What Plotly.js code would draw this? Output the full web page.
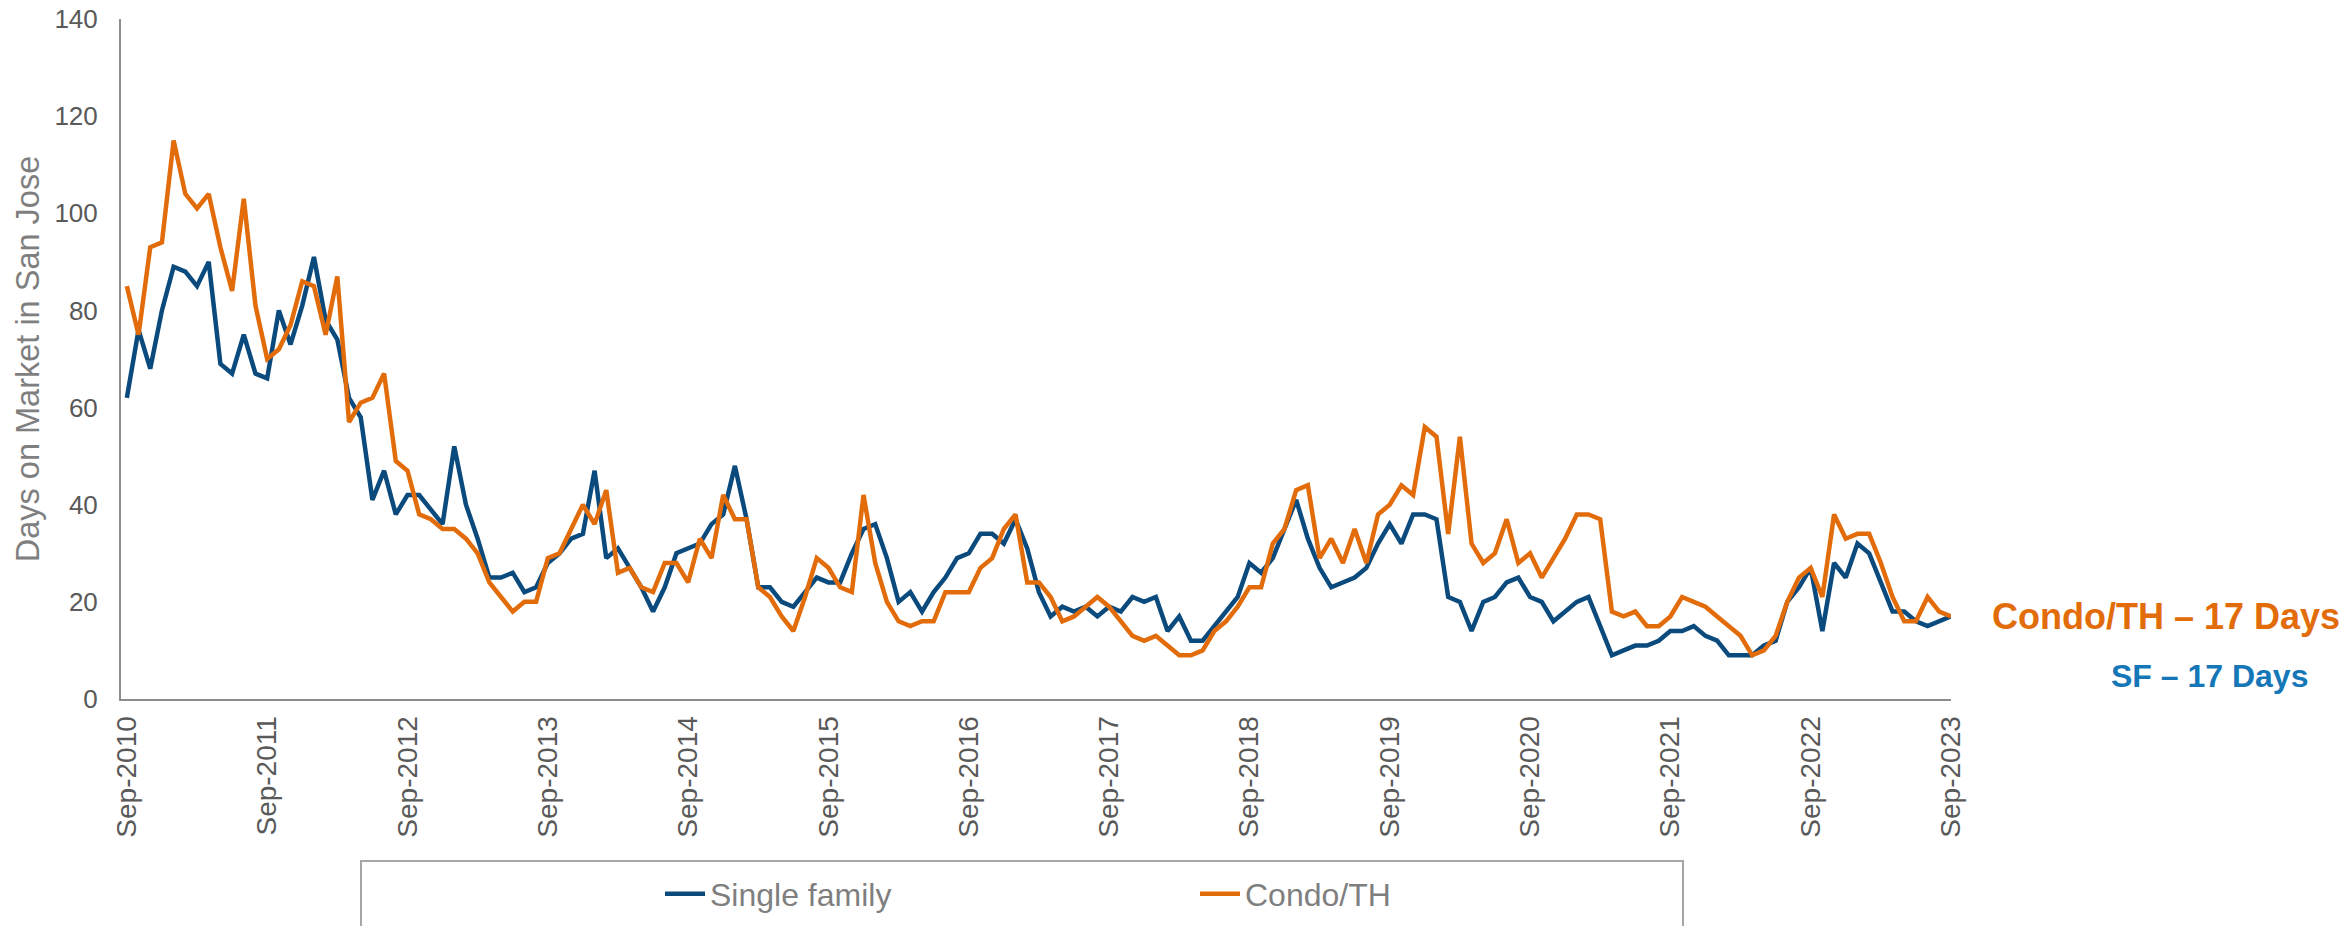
<!DOCTYPE html>
<html>
<head>
<meta charset="utf-8">
<script src="https://cdn.plot.ly/plotly-3.0.1.min.js"></script>
<style>
  html, body { margin: 0; padding: 0; background: #ffffff; }
  #chart { width: 2348px; height: 926px; }
</style>
</head>
<body>
<div id="chart"></div>
<script>
// Monthly series, Sep-2010 .. Sep-2023 (157 months)
const monthNames = ['Sep','Oct','Nov','Dec','Jan','Feb','Mar','Apr','May','Jun','Jul','Aug'];
const startYear = 2010;
const monthCount = 157;

const sfDays = [
  62,76,68,80,89,88,85,90,69,67,75,67,
  66,80,73,81,91,78,74,62,58,41,47,38,
  42,42,39,36,52,40,33,25,25,26,22,23,
  28,30,33,34,47,29,31,27,23,18,23,30,
  31,32,36,38,48,37,23,23,20,19,22,25,
  24,24,30,35,36,29,20,22,18,22,25,29,
  30,34,34,32,37,31,22,17,19,18,19,17,
  19,18,21,20,21,14,17,12,12,15,18,21,
  28,26,29,35,41,33,27,23,24,25,27,32,
  36,32,38,38,37,21,20,14,20,21,24,25,
  21,20,16,18,20,21,15,9,10,11,11,12,
  14,14,15,13,12,9,9,9,11,12,20,23,
  27,14,28,25,32,30,24,18,18,16,15,16,
  17
];

const condoDays = [
  85,75,93,94,115,104,101,104,93,84,103,81,
  70,72,77,86,85,75,87,57,61,62,67,49,
  47,38,37,35,35,33,30,24,21,18,20,20,
  29,30,35,40,36,43,26,27,23,22,28,28,
  24,33,29,42,37,37,23,21,17,14,21,29,
  27,23,22,42,28,20,16,15,16,16,22,22,
  22,27,29,35,38,24,24,21,16,17,19,21,
  19,16,13,12,13,11,9,9,10,14,16,19,
  23,23,32,35,43,44,29,33,28,35,28,38,
  40,44,42,56,54,34,54,32,28,30,37,28,
  30,25,29,33,38,38,37,18,17,18,15,15,
  17,21,20,19,17,15,13,9,10,13,20,25,
  27,21,38,33,34,34,28,21,16,16,21,18,
  17
];

const tickLabels = ['Sep-2010','Sep-2011','Sep-2012','Sep-2013','Sep-2014','Sep-2015','Sep-2016',
                    'Sep-2017','Sep-2018','Sep-2019','Sep-2020','Sep-2021','Sep-2022','Sep-2023'];

const seriesNames = ['Single family', 'Condo/TH'];
const calloutTexts = ['Condo/TH \u2013 17 Days', 'SF \u2013 17 Days'];

// month category labels
const months = [];
for (let i = 0; i < monthCount; i++) {
  const m = monthNames[i % 12];
  const y = startYear + Math.floor((i + 8) / 12);
  months.push(m + '-' + y);
}

const FONT = 'Liberation Sans, Arial, sans-serif';
const BLUE = '#0B4A7D';
const ORANGE = '#E36C0A';
const AXIS = '#8C8C8C';

const traces = [
  { x: months, y: sfDays, type: 'scatter', mode: 'lines', name: seriesNames[0],
    line: { color: BLUE, width: 4.5, shape: 'linear' } },
  { x: months, y: condoDays, type: 'scatter', mode: 'lines', name: seriesNames[1],
    line: { color: ORANGE, width: 4.5, shape: 'linear' } }
];

// plot area in pixels: left 121, right 1951, top 19, bottom 699
const L = 121, R = 397, T = 19, B = 227;
const W = 2348 - L - R, H = 926 - T - B;
const px = X => (X - L) / W;
const py = Y => (926 - B - Y) / H;

const layout = {
  width: 2348, height: 926,
  margin: { l: L, r: R, t: T, b: B, pad: 0, autoexpand: false },
  paper_bgcolor: '#ffffff', plot_bgcolor: '#ffffff',
  showlegend: true,
  font: { family: FONT, color: '#595959' },
  xaxis: {
    type: 'category',
    range: [-0.5, monthCount - 1],
    tickmode: 'array', tickvals: tickLabels, ticktext: tickLabels,
    tickangle: -90,
    tickfont: { family: FONT, size: 28, color: '#595959' },
    ticks: '', showgrid: false, zeroline: false,
    showline: true, linecolor: AXIS, linewidth: 2,
    ticklabelstandoff: 4,
    automargin: false,
    fixedrange: true
  },
  yaxis: {
    range: [0, 140], dtick: 20, tick0: 0,
    tickfont: { family: FONT, size: 26, color: '#595959' },
    ticks: '', showgrid: false, zeroline: false,
    showline: true, linecolor: AXIS, linewidth: 2,
    ticklabelstandoff: 16,
    automargin: false,
    title: { text: 'Days on Market in San Jose', font: { family: FONT, size: 32.5, color: '#7F7F7F' }, standoff: 5 },
    fixedrange: true
  },
  legend: {
    orientation: 'h',
    x: px(660), xanchor: 'left',
    y: py(894), yanchor: 'middle',
    font: { family: FONT, size: 32, color: '#7F7F7F' },
    bgcolor: 'rgba(0,0,0,0)', borderwidth: 0,
    entrywidth: 480, entrywidthmode: 'pixels',
    itemwidth: 40, traceorder: 'normal'
  },
  shapes: [
    { type: 'rect', xref: 'paper', yref: 'paper',
      x0: px(361), x1: px(1683), y0: py(861), y1: py(940),
      line: { color: '#A6A6A6', width: 2 }, fillcolor: 'rgba(0,0,0,0)', layer: 'below' }
  ],
  annotations: [
    { text: '<b>' + calloutTexts[0] + '</b>', xref: 'paper', yref: 'paper',
      x: px(2166), y: py(616), xanchor: 'center', yanchor: 'middle', showarrow: false,
      font: { family: FONT, size: 36, color: '#E36C0A' } },
    { text: '<b>' + calloutTexts[1] + '</b>', xref: 'paper', yref: 'paper',
      x: px(2209), y: py(676), xanchor: 'center', yanchor: 'middle', showarrow: false,
      font: { family: FONT, size: 32, color: '#1677B8' } }
  ]
};

Plotly.newPlot('chart', traces, layout, { displayModeBar: false, staticPlot: true });
</script>
</body>
</html>
